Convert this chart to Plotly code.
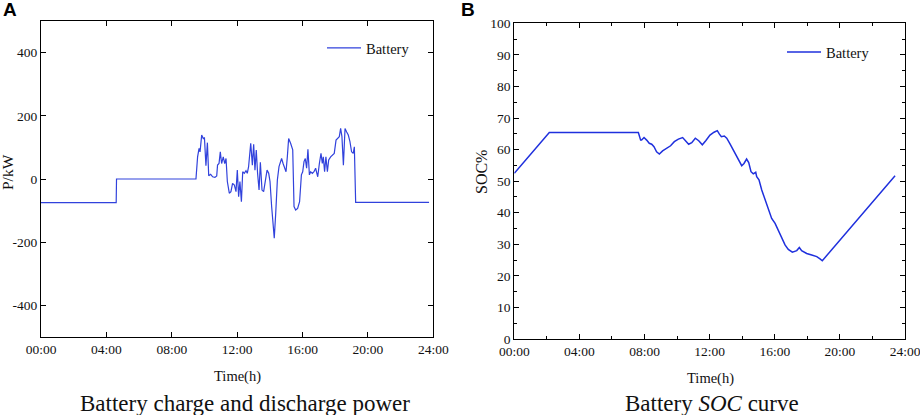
import plotly.graph_objects as go

# ---------------- data ----------------
# Panel A: battery charge/discharge power (kW) vs time (hours)
power_t = [0.0, 4.6, 4.62, 9.48, 9.58, 9.67, 9.73, 9.83, 9.93, 10.0, 10.09, 10.18, 10.26, 10.38, 10.5,
           10.64, 10.75, 10.8, 10.89, 10.97, 11.05, 11.15, 11.24, 11.32, 11.4, 11.52, 11.62, 11.72,
           11.83, 11.93, 12.01, 12.09, 12.17, 12.26, 12.34, 12.44, 12.54, 12.62, 12.7, 12.83, 12.93,
           13.01, 13.09, 13.17, 13.25, 13.34, 13.42, 13.52, 13.62, 13.72, 13.83, 13.93, 14.01, 14.11,
           14.21, 14.27, 14.36, 14.46, 14.56, 14.64, 14.72, 14.81, 14.89, 14.99, 15.07, 15.15, 15.27,
           15.4, 15.48, 15.58, 15.7, 15.82, 15.93, 16.01, 16.09, 16.17, 16.25, 16.33, 16.42, 16.5,
           16.6, 16.7, 16.8, 16.93, 17.03, 17.13, 17.21, 17.27, 17.35, 17.43, 17.52, 17.6, 17.72,
           17.84, 17.94, 18.05, 18.15, 18.25, 18.33, 18.41, 18.5, 18.6, 18.7, 18.8, 18.9, 19.0, 19.1,
           19.17, 19.25, 23.74]
power_kw = [-75, -75, 0, 0, 70, 97, 86, 139, 128, 130, 42, 115, 10, 15, 7,
            5, 10, 44, 49, 86, 49, 70, 49, 65, -8, -45, -40, -14,
            -19, -40, 28, -56, -8, -72, 23, 18, 26, 18, 39, 113, 44,
            110, 28, 92, 18, -35, 53, -35, -40, -8, 28, 18, -8, -87,
            -161, -187, -108, -3, 39, 49, 65, 49, 34, 23, 70, 128, 113,
            92, -87, -98, -93, -72, 13, 23, 55, 65, 34, 94, 13, 23,
            18, 23, 34, 7, 49, 81, 49, 70, 23, 70, 23, 60, 70,
            76, 81, 123, 128, 134, 160, 134, 44, 160, 149, 139, 118, 86, 81,
            102, -74, -74]

# Panel B: battery state of charge (%) vs time (hours)
soc_t = [0.0, 2.15, 7.62, 7.68, 7.76, 7.82, 7.97, 8.13, 8.29, 8.44, 8.58, 8.74, 8.91, 9.11, 9.36,
         9.6, 9.83, 10.08, 10.34, 10.5, 10.71, 10.9, 11.12, 11.33, 11.55, 11.76, 12.02, 12.27,
         12.47, 12.6, 12.72, 12.9, 13.05, 13.25, 13.5, 13.76, 13.97, 14.11, 14.27, 14.4, 14.54,
         14.68, 14.83, 14.89, 15.03, 15.2, 15.4, 15.6, 15.81, 16.02, 16.16, 16.28, 16.42, 16.63,
         16.83, 17.08, 17.35, 17.51, 17.65, 17.96, 18.27, 18.58, 18.78, 18.92, 23.39]
soc_pct = [52.5, 65.4, 65.4, 64.6, 63.0, 63.0, 63.8, 63.0, 62.0, 61.7, 60.9, 59.3, 58.6, 59.6, 60.4,
           61.2, 62.5, 63.3, 63.8, 63.0, 61.7, 62.2, 63.6, 62.8, 61.5, 62.8, 64.6, 65.5,
           66.0, 64.9, 64.1, 64.3, 63.6, 61.8, 59.3, 56.9, 54.9, 55.6, 57.0, 55.9, 53.0,
           52.3, 52.8, 51.4, 50.4, 47.2, 44.0, 40.9, 38.2, 36.6, 35.1, 33.5, 32.2, 29.8,
           28.4, 27.5, 28.0, 29.0, 28.0, 27.1, 26.6, 26.1, 25.4, 24.8, 51.7]

time_tickvals = [0, 4, 8, 12, 16, 20, 24]
time_ticktext = ["00:00", "04:00", "08:00", "12:00", "16:00", "20:00", "24:00"]
power_tickvals = [-400, -200, 0, 200, 400]
power_ticktext = ["-400", "-200", "0", "200", "400"]
soc_tickvals = [0, 10, 20, 30, 40, 50, 60, 70, 80, 90, 100]

# ---------------- figure ----------------
W, H = 920, 415
SERIF = "Liberation Serif, Times New Roman, serif"

fig = go.Figure()
fig.add_trace(go.Scatter(x=power_t, y=power_kw, mode="lines", name="Battery",
                         line=dict(color="#3142dc", width=1.2), xaxis="x", yaxis="y",
                         legend="legend"))
fig.add_trace(go.Scatter(x=soc_t, y=soc_pct, mode="lines", name="Battery",
                         line=dict(color="#1f30dd", width=1.5), xaxis="x2", yaxis="y2",
                         legend="legend2"))

def px_x(p):
    return p / W

def px_y(p):
    return 1 - p / H

axis_common = dict(showline=True, linecolor="black", linewidth=1.2, mirror="ticks",
                   ticks="inside", ticklen=5, tickwidth=1, tickcolor="black",
                   showgrid=False, zeroline=False, automargin=False,
                   ticklabeloverflow="allow",
                   tickfont=dict(family=SERIF, size=13.5, color="#111"))

fig.update_layout(
    width=W, height=H,
    margin=dict(l=0, r=0, t=0, b=0, pad=0),
    paper_bgcolor="white", plot_bgcolor="white",
    xaxis=dict(domain=[px_x(41), px_x(433.3)], range=[0, 24], anchor="y",
               tickvals=time_tickvals, ticktext=time_ticktext, **axis_common),
    yaxis=dict(domain=[px_y(337), px_y(21)], range=[-500, 500], anchor="x",
               tickvals=power_tickvals, ticktext=power_ticktext, **axis_common),
    xaxis2=dict(domain=[px_x(514.3), px_x(905)], range=[0, 24], anchor="y2",
                tickvals=time_tickvals, ticktext=time_ticktext,
                minor=dict(dtick=2, ticks="inside", ticklen=3, tickcolor="black", showgrid=False),
                **axis_common),
    yaxis2=dict(domain=[px_y(339), px_y(23.3)], range=[0, 100], anchor="x2",
                tickvals=soc_tickvals,
                minor=dict(dtick=5, ticks="inside", ticklen=3, tickcolor="black", showgrid=False),
                **axis_common),
    legend=dict(x=px_x(322), y=px_y(32), xanchor="left", yanchor="top", itemwidth=34,
                bgcolor="rgba(0,0,0,0)", borderwidth=0,
                font=dict(family=SERIF, size=14.5, color="#111")),
    legend2=dict(x=px_x(782), y=px_y(36), xanchor="left", yanchor="top", itemwidth=34,
                 bgcolor="rgba(0,0,0,0)", borderwidth=0,
                 font=dict(family=SERIF, size=14.5, color="#111")),
    showlegend=True,
)

annots = [
    dict(text="<b>A</b>", x=px_x(1), y=px_y(10), xanchor="left", yanchor="middle",
         font=dict(family="Liberation Sans, Arial, sans-serif", size=19, color="black")),
    dict(text="<b>B</b>", x=px_x(459), y=px_y(10), xanchor="left", yanchor="middle",
         font=dict(family="Liberation Sans, Arial, sans-serif", size=19, color="black")),
    dict(text="Time(h)", x=px_x(237), y=px_y(376), xanchor="center", yanchor="middle",
         font=dict(family=SERIF, size=14.5, color="#111")),
    dict(text="Time(h)", x=px_x(710), y=px_y(378), xanchor="center", yanchor="middle",
         font=dict(family=SERIF, size=14.5, color="#111")),
    dict(text="P/kW", x=px_x(7), y=px_y(172), xanchor="center", yanchor="middle", textangle=-90,
         font=dict(family=SERIF, size=15.5, color="#111")),
    dict(text="SOC%", x=px_x(481), y=px_y(172), xanchor="center", yanchor="middle", textangle=-90,
         font=dict(family=SERIF, size=16, color="#111")),
    dict(text="Battery charge and discharge power", x=px_x(245), y=px_y(403),
         xanchor="center", yanchor="middle",
         font=dict(family=SERIF, size=23, color="#111")),
    dict(text="Battery <i>SOC</i> curve", x=px_x(712), y=px_y(403),
         xanchor="center", yanchor="middle",
         font=dict(family=SERIF, size=23, color="#111")),
]
for a in annots:
    a.update(xref="paper", yref="paper", showarrow=False)
fig.update_layout(annotations=annots)

fig.write_html("out.html", config={"displayModeBar": False},
               post_script="document.body.style.margin='0';document.body.style.overflow='hidden';")
